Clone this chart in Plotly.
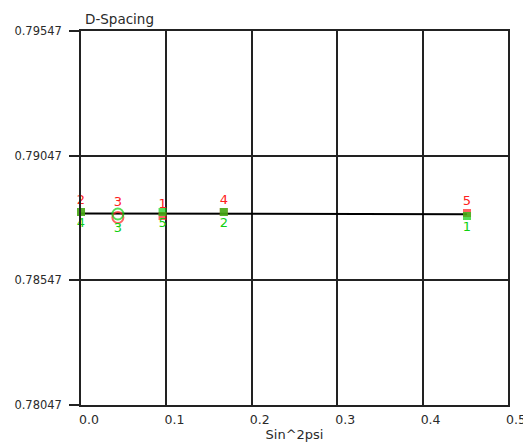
import numpy as np
import plotly.graph_objects as go

# data
sin2psi = [0.0, 0.0432, 0.0955, 0.1672, 0.452]
d_pos = [0.78821, 0.78799, 0.78805, 0.78821, 0.78817]   # red series
d_neg = [0.78821, 0.78813, 0.78821, 0.78821, 0.78805]   # green series
pos_labels = ["2", "3", "1", "4", "5"]
neg_labels = ["4", "3", "5", "2", "1"]
y_ticks = [0.78047, 0.78547, 0.79047, 0.79547]
y_tick_labels = ["0.78047", "0.78547", "0.79047", "0.79547"]
x_ticks = [0.0, 0.1, 0.2, 0.3, 0.4, 0.5]

# linear fit over all points
xs = np.array(sin2psi + sin2psi)
ys = np.array(d_pos + d_neg)
slope, intercept = np.polyfit(xs, ys, 1)
fit_x = [min(sin2psi), max(sin2psi)]
fit_y = [intercept + slope * v for v in fit_x]

RED = "#ff2020"
GREEN = "#10d010"
FONT = "DejaVu Sans"

fig = go.Figure()
fig.add_trace(go.Scatter(x=fit_x, y=fit_y, mode="lines", cliponaxis=False,
                         line=dict(color="#000000", width=2), hoverinfo="skip"))

sym = ["square", "circle-open", "square", "square", "square"]
size = [6, 11, 6, 6, 6]
fig.add_trace(go.Scatter(x=sin2psi, y=d_pos, mode="markers+text", text=pos_labels,
                         textposition="top center", cliponaxis=False,
                         textfont=dict(color=RED, size=13, family=FONT),
                         marker=dict(color=RED, symbol=sym, size=size,
                                     line=dict(color=RED, width=2))))
fig.add_trace(go.Scatter(x=sin2psi, y=d_neg, mode="markers+text", text=neg_labels,
                         textposition="bottom center", cliponaxis=False,
                         textfont=dict(color=GREEN, size=13, family=FONT),
                         marker=dict(color=GREEN, symbol=sym, size=size,
                                     line=dict(color=GREEN, width=2))))

# page body has an 8px margin: figure occupies x 8..531, y 8..446
fig.update_layout(
    width=523, height=438,
    margin=dict(l=73, r=23, t=23, b=41, autoexpand=False),
    paper_bgcolor="white", plot_bgcolor="white",
    showlegend=False,
    font=dict(family=FONT, size=12.5, color="#2a2a2a"),
    annotations=[dict(text="D-Spacing", xref="paper", yref="paper", x=0.005, y=1.0,
                      xanchor="left", yanchor="bottom", yshift=2, showarrow=False,
                      font=dict(size=13.5, color="#2a2a2a", family=FONT))],
)
fig.update_xaxes(range=[0, 0.5], tickvals=x_ticks, ticktext=[f"{v:.1f}" for v in x_ticks],
                 automargin=False,
                 showgrid=True, gridcolor="#222222", gridwidth=1.5,
                 showline=True, linecolor="#222222", linewidth=1.5, mirror=True,
                 zeroline=False, ticks="", ticklabelshift=8, ticklabelstandoff=2,
                 title=dict(text="Sin^2psi", standoff=0, font=dict(size=13)))
fig.update_yaxes(range=[0.78047, 0.79547], tickvals=y_ticks, ticktext=y_tick_labels,
                 automargin=False, tickfont=dict(size=11.5),
                 showgrid=True, gridcolor="#222222", gridwidth=1.5,
                 showline=True, linecolor="#222222", linewidth=1.5, mirror=True,
                 zeroline=False, ticks="outside", ticklen=10, tickcolor="#222222",
                 tickwidth=1.5, ticklabelstandoff=5)

fig.write_html("out.html")
